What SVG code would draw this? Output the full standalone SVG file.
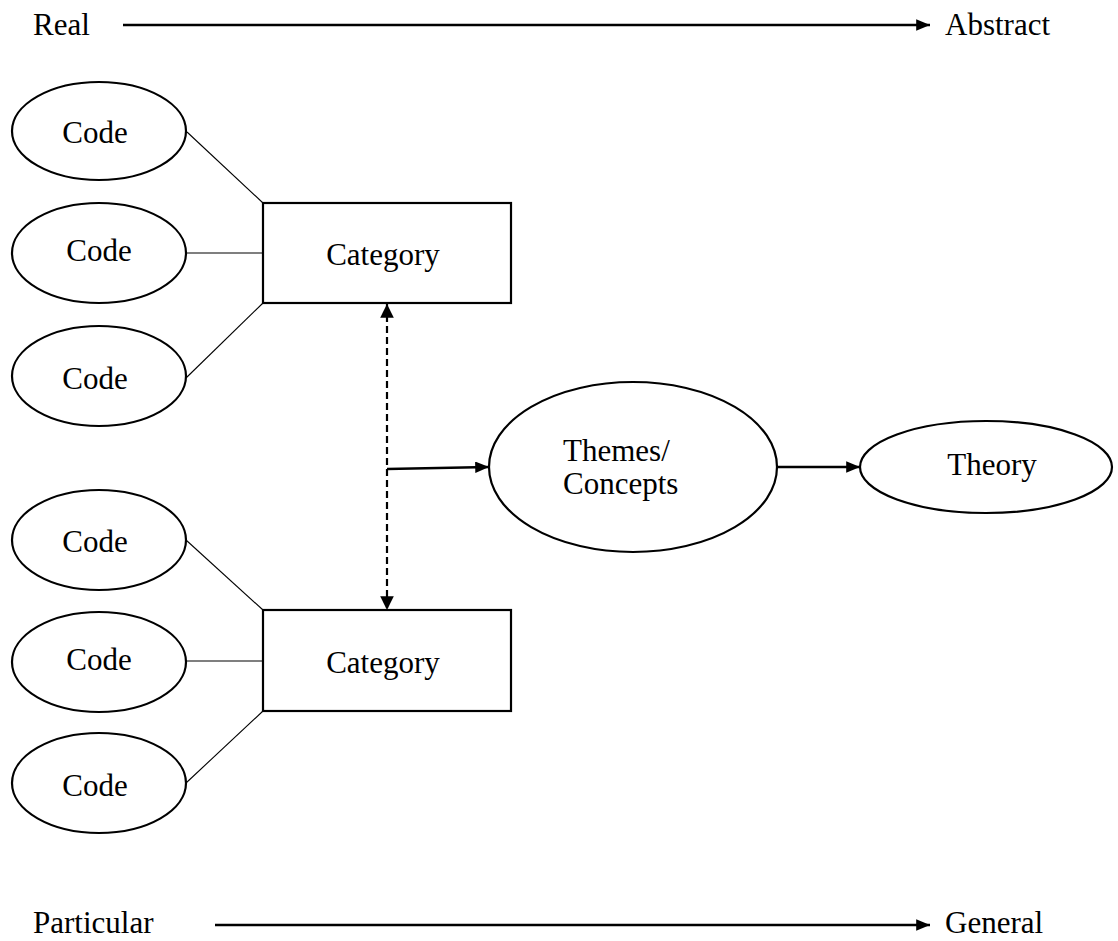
<svg xmlns="http://www.w3.org/2000/svg" width="1118" height="941" viewBox="0 0 1118 941">
<style>
text{font-family:"Liberation Serif","Times New Roman",serif;font-size:31px;fill:#000}
.shape{fill:#fff;stroke:#000;stroke-width:2.2}
.thin{stroke:#000;stroke-width:1.1;fill:none}
.arr{stroke:#000;stroke-width:2.5;fill:none}
.dash{stroke:#000;stroke-width:2.2;fill:none;stroke-dasharray:7 4}
</style>
<defs>
<marker id="ah" viewBox="0 0 12 10" refX="12" refY="5" markerWidth="5.6" markerHeight="4.6" orient="auto-start-reverse" markerUnits="strokeWidth">
<path d="M0,0 L12,5 L0,10 z" fill="#000"/>
</marker>
<marker id="ahd" viewBox="0 0 12 12" refX="12" refY="6" markerWidth="6.2" markerHeight="6.2" orient="auto-start-reverse" markerUnits="strokeWidth">
<path d="M0,0 L12,6 L0,12 z" fill="#000"/>
</marker>
</defs>
<rect width="1118" height="941" fill="#fff"/>
<g id="axes">
<text x="33" y="35">Real</text>
<text x="945" y="35">Abstract</text>
<text x="33" y="933">Particular</text>
<text x="945" y="933">General</text>
</g>
<g id="connectors">
<line class="arr" x1="123" y1="25" x2="930" y2="25" marker-end="url(#ah)"/>
<line class="arr" x1="215" y1="925" x2="930" y2="925" marker-end="url(#ah)"/>
<line class="thin" x1="187" y1="132" x2="263" y2="203"/>
<line class="thin" x1="186" y1="253" x2="263" y2="253"/>
<line class="thin" x1="186" y1="378" x2="263" y2="303"/>
<line class="thin" x1="186" y1="540" x2="263" y2="610"/>
<line class="thin" x1="186" y1="661" x2="263" y2="661"/>
<line class="thin" x1="186" y1="783" x2="263" y2="711"/>
<line class="dash" x1="387" y1="304" x2="387" y2="610" marker-start="url(#ahd)" marker-end="url(#ahd)"/>
<line class="arr" x1="387" y1="469" x2="489" y2="467" marker-end="url(#ah)"/>
<line class="arr" x1="777" y1="467" x2="860" y2="467" marker-end="url(#ah)"/>
</g>
<g id="code1"><ellipse class="shape" cx="99" cy="131" rx="87" ry="49"/><text x="95" y="143" text-anchor="middle">Code</text></g>
<g id="code2"><ellipse class="shape" cx="99" cy="253" rx="87" ry="50"/><text x="99" y="261" text-anchor="middle">Code</text></g>
<g id="code3"><ellipse class="shape" cx="99" cy="376" rx="87" ry="50"/><text x="95" y="389" text-anchor="middle">Code</text></g>
<g id="category1"><rect class="shape" x="263" y="203" width="248" height="100"/><text x="383" y="265" text-anchor="middle">Category</text></g>
<g id="code4"><ellipse class="shape" cx="99" cy="540" rx="87" ry="50"/><text x="95" y="552" text-anchor="middle">Code</text></g>
<g id="code5"><ellipse class="shape" cx="99" cy="662" rx="87" ry="50"/><text x="99" y="670" text-anchor="middle">Code</text></g>
<g id="code6"><ellipse class="shape" cx="99" cy="783" rx="87" ry="50"/><text x="95" y="796" text-anchor="middle">Code</text></g>
<g id="category2"><rect class="shape" x="263" y="610" width="248" height="101"/><text x="383" y="673" text-anchor="middle">Category</text></g>
<g id="themes"><ellipse class="shape" cx="633" cy="467" rx="144" ry="85"/><text x="563" y="461">Themes/</text><text x="563" y="494">Concepts</text></g>
<g id="theory"><ellipse class="shape" cx="986" cy="467" rx="126" ry="46"/><text x="992" y="475" text-anchor="middle">Theory</text></g>
</svg>
